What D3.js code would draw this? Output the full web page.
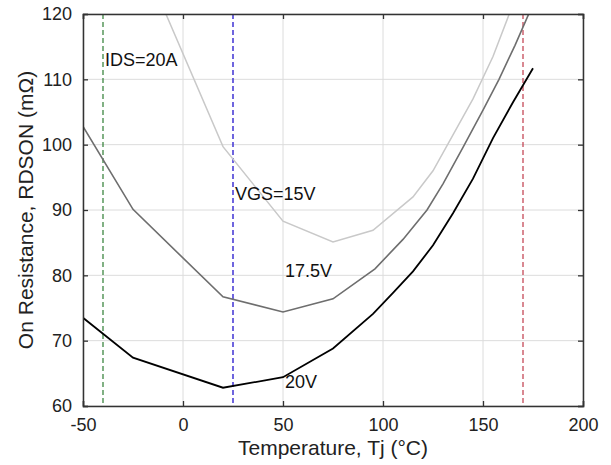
<!DOCTYPE html>
<html>
	<head>
		<meta charset="utf-8">
		<title>On Resistance vs Temperature</title>
		<script src="https://d3js.org/d3.v7.min.js" charset="utf-8"></script>
		<style>
		body {
			margin: 0;
			background: white;
			font-family: "Liberation Sans", Arial, sans-serif;
			}
		.tick text {
			font-size: 18px;
			fill: #222;
			}
		</style>
	</head>
	<body>
		<script>
		// temperatures (deg C) and RDSON (mOhm)
		var temp20 = [-50, -25, 20, 50, 75, 95, 105, 115, 125, 135, 145, 155, 165, 175];
		var rds20 = [73.5, 67.4, 62.8, 64.4, 68.8, 74.1, 77.3, 80.6, 84.6, 89.5, 94.8, 101, 106.5, 111.7];

		var temp175 = [-50, -25, 20, 50, 75, 96, 110, 122, 130, 140, 150, 158, 166, 175];
		var rds175 = [102.8, 90.1, 76.7, 74.4, 76.4, 81, 85.5, 90, 94, 99.6, 105.3, 110, 115.2, 121.5];

		var temp15 = [-25, 20, 50, 75, 95, 115, 125, 135, 145, 155, 165];
		var rds15 = [131.7, 99.7, 88.3, 85.1, 86.9, 92, 96, 101.5, 107, 113.5, 121.5];

		// vertical dashed markers
		var markerTemps = [-40, 25, 170];
		var markerColors = ["#2e7d32", "#4b3fd6", "#c03a4a"];

		var xTicks = [-50, 0, 50, 100, 150, 200];
		var yTicks = [60, 70, 80, 90, 100, 110, 120];

		var width = 611;
		var height = 465;
		var margin = {top: 14, right: 28, bottom: 59, left: 83};
		var w = width - margin.left - margin.right;
		var h = height - margin.top - margin.bottom;

		var x = d3.scaleLinear().domain([-50, 200]).range([0, w]);
		var y = d3.scaleLinear().domain([60, 120]).range([h, 0]);

		var svg = d3.select("body")
			.append("svg")
			.attr("width", width)
			.attr("height", height);

		svg.append("defs").append("clipPath")
			.attr("id", "plotclip")
			.append("rect")
			.attr("width", w)
			.attr("height", h);

		var g = svg.append("g")
			.attr("transform", "translate(" + margin.left + "," + margin.top + ")");

		// grid
		g.append("g")
			.selectAll("line")
			.data(xTicks)
			.enter()
			.append("line")
			.attr("x1", function(d) {return x(d)})
			.attr("x2", function(d) {return x(d)})
			.attr("y1", 0)
			.attr("y2", h)
			.attr("stroke", "#dcdcdc");

		g.append("g")
			.selectAll("line")
			.data(yTicks)
			.enter()
			.append("line")
			.attr("y1", function(d) {return y(d)})
			.attr("y2", function(d) {return y(d)})
			.attr("x1", 0)
			.attr("x2", w)
			.attr("stroke", "#dcdcdc");

		// dashed markers
		g.append("g")
			.selectAll("line")
			.data(markerTemps)
			.enter()
			.append("line")
			.attr("x1", function(d) {return x(d)})
			.attr("x2", function(d) {return x(d)})
			.attr("y1", 0)
			.attr("y2", h)
			.attr("stroke", function(d, i) {return markerColors[i]})
			.attr("stroke-width", function(d, i) {return i == 1 ? 1.6 : 1.2})
			.attr("stroke-dasharray", "5,3");

		// curves
		var line = d3.line()
			.x(function(d) {return x(d[0])})
			.y(function(d) {return y(d[1])});

		var curves = [
			{t: temp15, r: rds15, color: "#c9c9c9", sw: 1.5},
			{t: temp175, r: rds175, color: "#6e6e6e", sw: 1.6},
			{t: temp20, r: rds20, color: "#000000", sw: 1.8}
		];

		g.append("g")
			.attr("clip-path", "url(#plotclip)")
			.selectAll("path")
			.data(curves)
			.enter()
			.append("path")
			.attr("fill", "none")
			.attr("stroke", function(d) {return d.color})
			.attr("stroke-width", function(d) {return d.sw})
			.attr("d", function(d) {
				return line(d.t.map(function(t, i) {return [t, d.r[i]]}));
			});

		// axes, ticks pointing inward; plain hyphen for negatives
		var plain = function(d) {return String(d)};
		var xAxis = g.append("g")
			.attr("transform", "translate(0," + h + ")")
			.call(d3.axisBottom(x).tickValues(xTicks).tickSize(-5).tickPadding(12).tickFormat(plain));
		var yAxis = g.append("g")
			.call(d3.axisLeft(y).tickValues(yTicks).tickSize(-5).tickPadding(11).tickFormat(plain));
		var xTop = g.append("g")
			.call(d3.axisTop(x).tickValues(xTicks).tickSize(-5).tickFormat(""));
		var yRight = g.append("g")
			.attr("transform", "translate(" + w + ",0)")
			.call(d3.axisRight(y).tickValues(yTicks).tickSize(-5).tickFormat(""));

		[xAxis, yAxis, xTop, yRight].forEach(function(a) {
			a.select(".domain").attr("stroke", "#333").attr("stroke-width", 1.5);
			a.selectAll(".tick line").attr("stroke", "#333").attr("stroke-width", 1.3);
			a.selectAll(".tick text").attr("font-family", "Liberation Sans, Arial, sans-serif");
		});

		// labels
		var labels = [
			{text: "IDS=20A", t: -40, v: 112},
			{text: "VGS=15V", t: 25, v: 91.6},
			{text: "17.5V", t: 50, v: 79.8},
			{text: "20V", t: 50, v: 62.7}
		];

		g.append("g")
			.selectAll("text")
			.data(labels)
			.enter()
			.append("text")
			.attr("x", function(d) {return x(d.t) + 2})
			.attr("y", function(d) {return y(d.v)})
			.attr("font-size", "18px")
			.attr("fill", "#111")
			.text(function(d) {return d.text});

		// axis titles
		svg.append("text")
			.attr("x", margin.left + w / 2)
			.attr("y", 455)
			.attr("text-anchor", "middle")
			.attr("font-size", "21px")
			.attr("fill", "#222")
			.text("Temperature, Tj (°C)");

		svg.append("text")
			.attr("transform", "translate(33," + (margin.top + h / 2) + ") rotate(-90)")
			.attr("text-anchor", "middle")
			.attr("font-size", "21px")
			.attr("fill", "#222")
			.text("On Resistance, RDSON (mΩ)");
		</script>
	</body>
</html>
